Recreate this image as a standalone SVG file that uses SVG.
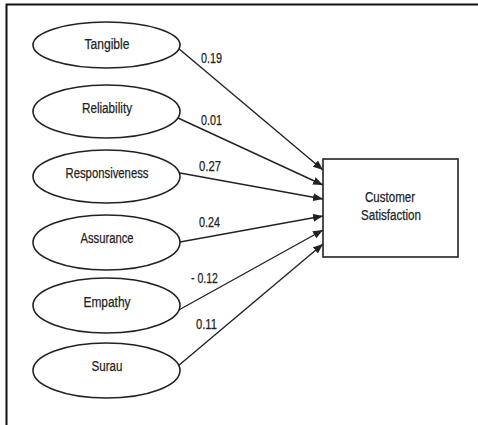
<svg xmlns="http://www.w3.org/2000/svg" width="478" height="425" viewBox="0 0 478 425">
<style>
.node ellipse, .node rect { fill: #fff; stroke: #222; stroke-width: 1.6; }
.lbl { font-family: "Liberation Sans", Arial, sans-serif; font-size: 15.5px; fill: #222; text-anchor: middle; stroke: #222; stroke-width: 0.25; }
.num { font-family: "Liberation Sans", Arial, sans-serif; font-size: 14px; fill: #222; stroke: #222; stroke-width: 0.25; }
#connectors line { stroke: #222; stroke-width: 1.4; marker-end: url(#arr); }
</style>
<defs>
<marker id="arr" viewBox="0 0 10 8" refX="10" refY="4" markerWidth="10" markerHeight="8" markerUnits="userSpaceOnUse" orient="auto">
<path d="M0,0 L10,4 L0,8 Z" fill="#222"/>
</marker>
</defs>
<rect x="0" y="0" width="478" height="425" fill="#fff"/>
<path d="M6.5,425 V4.5 H478" fill="none" stroke="#111" stroke-width="2"/>
<g id="connectors">
<line x1="178" y1="48" x2="323" y2="170"/>
<line x1="178" y1="118" x2="323" y2="185"/>
<line x1="180" y1="173" x2="323" y2="199"/>
<line x1="180" y1="242" x2="323" y2="216"/>
<line x1="177" y1="311" x2="323" y2="230"/>
<line x1="178" y1="366" x2="323" y2="244"/>
<text class="num" x="201" y="63" textLength="21" lengthAdjust="spacingAndGlyphs">0.19</text>
<text class="num" x="201" y="125" textLength="21" lengthAdjust="spacingAndGlyphs">0.01</text>
<text class="num" x="199" y="171" textLength="22" lengthAdjust="spacingAndGlyphs">0.27</text>
<text class="num" x="199" y="227" textLength="21" lengthAdjust="spacingAndGlyphs">0.24</text>
<text class="num" x="191" y="283" textLength="27" lengthAdjust="spacingAndGlyphs">- 0.12</text>
<text class="num" x="196" y="329" textLength="21" lengthAdjust="spacingAndGlyphs">0.11</text>
</g>
<g id="tangible" class="node"><ellipse cx="106.5" cy="45" rx="73.5" ry="23"/><text class="lbl" x="107" y="49" textLength="45" lengthAdjust="spacingAndGlyphs">Tangible</text></g>
<g id="reliability" class="node"><ellipse cx="106.5" cy="111.5" rx="73.5" ry="26.5"/><text class="lbl" x="107" y="113" textLength="50" lengthAdjust="spacingAndGlyphs">Reliability</text></g>
<g id="responsiveness" class="node"><ellipse cx="106.5" cy="176.5" rx="73.5" ry="26.5"/><text class="lbl" x="107" y="178" textLength="83" lengthAdjust="spacingAndGlyphs">Responsiveness</text></g>
<g id="assurance" class="node"><ellipse cx="106.5" cy="242.5" rx="73.5" ry="27.5"/><text class="lbl" x="107" y="243" textLength="53" lengthAdjust="spacingAndGlyphs">Assurance</text></g>
<g id="empathy" class="node"><ellipse cx="106.5" cy="305.5" rx="73.5" ry="27.5"/><text class="lbl" x="107" y="307" textLength="47" lengthAdjust="spacingAndGlyphs">Empathy</text></g>
<g id="surau" class="node"><ellipse cx="106.5" cy="370.5" rx="73.5" ry="27.5"/><text class="lbl" x="107" y="371" textLength="31" lengthAdjust="spacingAndGlyphs">Surau</text></g>
<g id="customer-satisfaction" class="node"><rect x="323" y="159" width="135" height="98"/>
<text class="lbl" x="390" y="202" textLength="50" lengthAdjust="spacingAndGlyphs">Customer</text>
<text class="lbl" x="391" y="220" textLength="60" lengthAdjust="spacingAndGlyphs">Satisfaction</text></g>
</svg>
